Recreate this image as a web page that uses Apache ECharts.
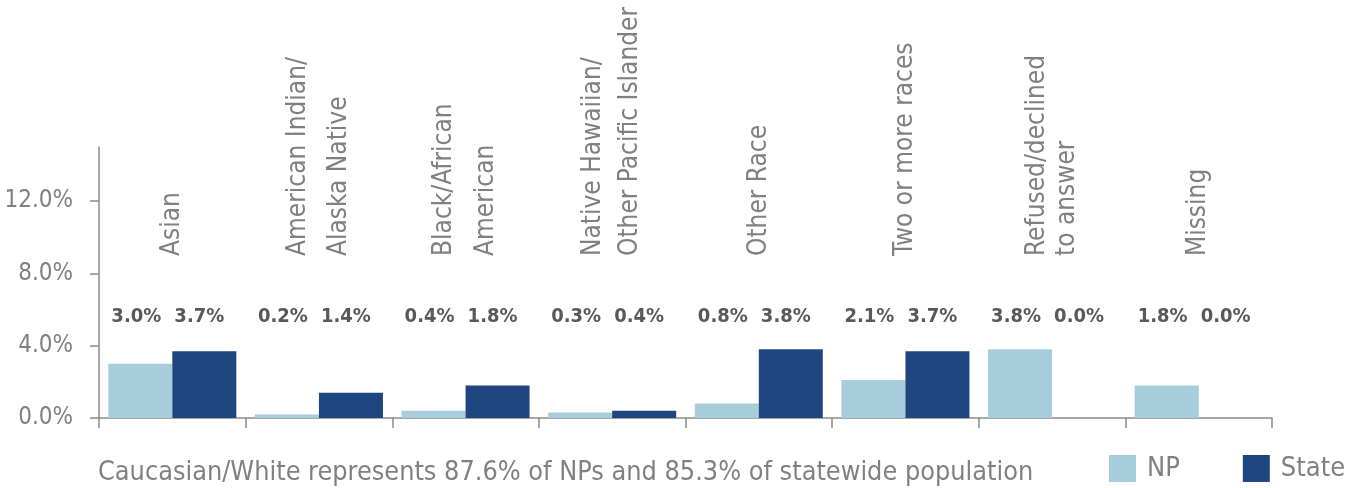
<!DOCTYPE html>
<html><head><meta charset="utf-8">
<script src="https://cdn.jsdelivr.net/npm/echarts@6/dist/echarts.min.js"></script>
<style>html,body{margin:0;padding:0;background:#fff}#c{width:1350px;height:488px}</style>
</head><body><div id="c"></div>
<script>
const categories = ['Asian','American Indian/\nAlaska Native','Black/African\nAmerican','Native Hawaiian/\nOther Pacific Islander','Other Race','Two or more races','Refused/declined\nto answer','Missing'];
const npValues = [3.0, 0.2, 0.4, 0.3, 0.8, 2.1, 3.8, 1.8];
const stateValues = [3.7, 1.4, 1.8, 0.4, 3.8, 3.7, 0.0, 0.0];
const yTicks = [0, 4, 8, 12];
const seriesNames = ['NP', 'State'];
const caption = 'Caucasian/White represents 87.6% of NPs and 85.3% of statewide population';

const FONT = '"DejaVu Sans Condensed","Liberation Sans Narrow",sans-serif';
const GRAY = '#808080';
const AXIS = '#8a8a8a';

const chart = echarts.init(document.getElementById('c'), null, {renderer: 'canvas'});

// per-label styling (line spacing, small sideways nudge via padding)
const catLabelStyle = [
  {padding: [12, 0, 0, 0]},
  {lineHeight: 41, padding: [4, 0, 0, 0]},
  {lineHeight: 42, padding: [12, 0, 0, 0]},
  {lineHeight: 37, padding: [10, 0, 0, 0]},
  {padding: [10, 0, 0, 0]},
  {padding: [2, 0, 0, 0]},
  {lineHeight: 30, padding: [16, 0, 0, 0]},
  {padding: [2, 0, 0, 0]}
];

function valueLabel() {
  return {
    show: true,
    position: 'top',
    formatter: p => p.value.toFixed(1) + '%',
    fontFamily: FONT,
    fontSize: 20,
    fontWeight: 'bold',
    color: '#595959'
  };
}
function labelLayout(dx) {
  return function (p) {
    return {y: p.rect.y + p.rect.height - 101, dx: dx, verticalAlign: 'middle', align: 'center'};
  };
}

chart.setOption({
  animation: false,
  grid: {left: 99, right: 78, top: 147, bottom: 70, containLabel: false, outerBoundsMode: 'none'},
  title: {
    text: caption, left: 93, top: 455,
    textStyle: {fontFamily: FONT, fontSize: 26.8, fontWeight: 'normal', color: GRAY}
  },
  legend: {
    data: seriesNames, left: 1109, top: 455, padding: 0,
    itemWidth: 27, itemHeight: 27, itemGap: 63,
    icon: 'rect',
    textStyle: {fontFamily: FONT, fontSize: 27, color: GRAY, padding: [0, 0, 0, 6]}
  },
  xAxis: [
    {
      type: 'category', data: categories, position: 'bottom',
      axisLine: {show: true, lineStyle: {color: AXIS, width: 1.5}},
      axisTick: {show: true, interval: 0, length: 10, lineStyle: {color: AXIS, width: 1.5}},
      axisLabel: {show: false}
    },
    {
      type: 'category', position: 'top', offset: -109,
      data: categories.map((c, i) => ({value: c, textStyle: catLabelStyle[i]})),
      axisLine: {show: false}, axisTick: {show: false},
      axisLabel: {show: true, rotate: -90, margin: 0, interval: 0, fontFamily: FONT, fontSize: 26, color: GRAY, lineHeight: 41}
    }
  ],
  yAxis: {
    type: 'value', min: 0, max: 15, interval: 4,
    axisLine: {show: true, lineStyle: {color: AXIS, width: 1.5}},
    axisTick: {show: true, length: 9, customValues: yTicks, lineStyle: {color: AXIS, width: 1.5}},
    splitLine: {show: false},
    axisLabel: {
      customValues: yTicks, margin: 26,
      formatter: v => v.toFixed(1) + '%',
      fontFamily: FONT, fontSize: 24, color: GRAY
    }
  },
  series: [
    {
      name: seriesNames[0], type: 'bar', data: npValues, xAxisIndex: 0,
      barGap: '0%', barCategoryGap: '12.7%',
      itemStyle: {color: '#A7CCDB'},
      label: valueLabel(), labelLayout: labelLayout(-4)
    },
    {
      name: seriesNames[1], type: 'bar', data: stateValues, xAxisIndex: 0,
      barGap: '0%', barCategoryGap: '12.7%',
      itemStyle: {color: '#1F467F'},
      label: valueLabel(), labelLayout: labelLayout(-5)
    }
  ]
});
</script></body></html>
